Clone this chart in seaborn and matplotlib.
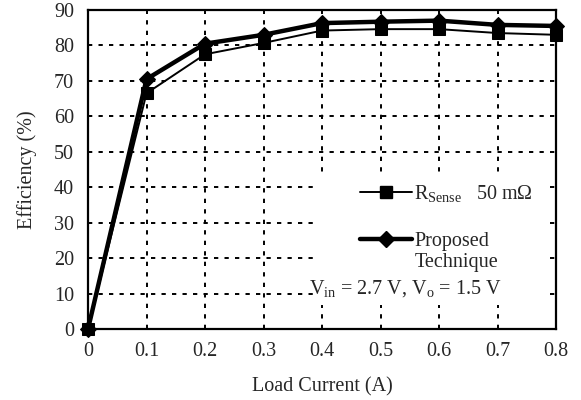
import matplotlib
matplotlib.use("Agg")
import matplotlib.pyplot as plt
import seaborn as sns
import pandas as pd
from matplotlib.lines import Line2D
from matplotlib.patches import Rectangle

load_current = [0, 0.1, 0.2, 0.3, 0.4, 0.5, 0.6, 0.7, 0.8]
eff_rsense = [0, 66.5, 77.5, 80.7, 84.2, 84.6, 84.6, 83.5, 83.0]
eff_proposed = [0, 70.5, 80.5, 83.0, 86.3, 86.7, 87.0, 85.8, 85.5]
x_ticks = [0, 0.1, 0.2, 0.3, 0.4, 0.5, 0.6, 0.7, 0.8]
x_tick_labels = ["0", "0.1", "0.2", "0.3", "0.4", "0.5", "0.6", "0.7", "0.8"]
y_ticks = [0, 10, 20, 30, 40, 50, 60, 70, 80, 90]

sns.set_style("white")
plt.rcParams["font.family"] = ["Liberation Serif", "DejaVu Serif"]
plt.rcParams["mathtext.fontset"] = "custom"
plt.rcParams["mathtext.rm"] = "Liberation Serif"
plt.rcParams["mathtext.it"] = "Liberation Serif:italic"

FS = 14.5

df = pd.DataFrame({"x": load_current, "rs": eff_rsense, "pr": eff_proposed})

fig = plt.figure(figsize=(5.81, 4.0), dpi=100)
ax = fig.add_axes([0.1515, 0.1775, 0.8055, 0.7975])

grid_style = dict(color="black", linestyle=(0, (2.2, 3.2)), linewidth=1.4, zorder=1)
for xv in x_ticks[1:-1]:
    ax.axvline(xv, **grid_style)
for yv in y_ticks[1:-1]:
    ax.axhline(yv, **grid_style)

# white annotation area covering the gridlines
ax.add_patch(Rectangle((0.489, 0.075), 0.498, 0.408, transform=ax.transAxes,
                       facecolor="white", edgecolor="none", zorder=2))

sns.lineplot(data=df, x="x", y="pr", ax=ax, color="black", linewidth=3.2,
             marker="D", markersize=8, markeredgecolor="black", clip_on=False, zorder=3)
sns.lineplot(data=df, x="x", y="rs", ax=ax, color="black", linewidth=1.4,
             marker="s", markersize=9, markeredgecolor="black", clip_on=False, zorder=4)

ax.set_xlim(0, 0.8)
ax.set_ylim(0, 90)
ax.set_xticks(x_ticks)
ax.set_xticklabels(x_tick_labels)
ax.set_yticks(y_ticks)
for s in ax.spines.values():
    s.set_color("black")
    s.set_linewidth(1.6)
    s.set_zorder(5)
ax.tick_params(axis="y", direction="out", length=6, width=1.4, labelsize=FS, pad=4, color="black")
ax.tick_params(axis="x", direction="in", length=6, width=1.4, labelsize=FS, pad=9, color="black")
ax.set_xlabel("Load Current (A)", fontsize=FS, labelpad=12)
ax.set_ylabel("Efficiency (%)", fontsize=FS, labelpad=12)

handles = [
    Line2D([], [], color="black", linewidth=1.4, marker="s", markersize=9),
    Line2D([], [], color="black", linewidth=3.2, marker="D", markersize=8),
]
labels = [r"R$_{\mathrm{Sense}}$   50 m$\Omega$", "Proposed"]
leg = ax.legend(handles, labels, loc="upper left", bbox_to_anchor=(0.581, 0.459),
                fontsize=FS, frameon=False, handlelength=2.6, handletextpad=0.1,
                labelspacing=1.4, borderpad=0.0, borderaxespad=0.0)
leg.set_zorder(6)

ax.text(0.699, 0.21, "Technique", transform=ax.transAxes, fontsize=FS,
        ha="left", va="center", zorder=6)
ax.text(0.472, 0.128, r"V$_{\mathrm{in}}$ = 2.7 V, V$_{\mathrm{o}}$ = 1.5 V",
        transform=ax.transAxes, fontsize=FS, ha="left", va="center", zorder=6)

fig.savefig("out.png", dpi=100)
